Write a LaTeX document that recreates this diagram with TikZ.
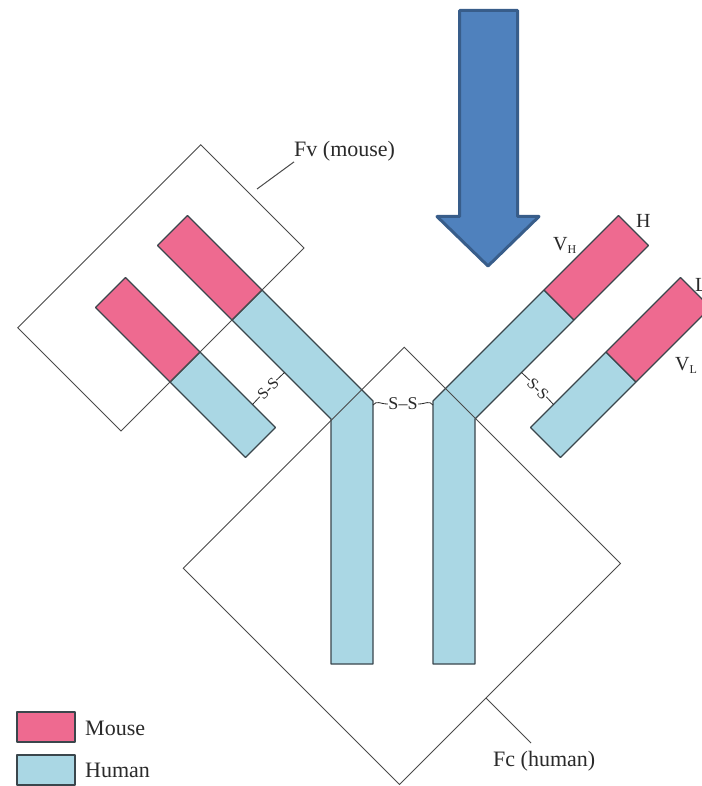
\documentclass[tikz,border=0pt]{standalone}
\usepackage{fontspec}
\setmainfont{Liberation Serif}
\definecolor{mousepink}{HTML}{EE6A90}
\definecolor{humanblue}{HTML}{AAD7E4}
\definecolor{chainline}{HTML}{3A464C}
\definecolor{framegray}{HTML}{4A4A4A}
\definecolor{labelgray}{HTML}{2A2A2A}
\definecolor{arrowfill}{HTML}{4F81BD}
\definecolor{arrowline}{HTML}{385D8A}
\begin{document}
\begin{tikzpicture}[x=1pt,y=-1pt,
  mouse/.style={fill=mousepink,draw=chainline,line width=1.2pt,line join=round},
  human/.style={fill=humanblue,draw=chainline,line width=1.2pt,line join=round},
  frame/.style={draw=framegray,line width=1pt},
  leader/.style={draw=framegray,line width=1pt},
  lbl/.style={font=\fontsize{22}{26}\selectfont,inner sep=0pt,text=labelgray},
  dlbl/.style={font=\fontsize{20}{24}\selectfont,inner sep=0pt,text=labelgray},
  sslbl/.style={font=\fontsize{18}{20}\selectfont,inner sep=0.5pt,text=labelgray},
  ssrot/.style={font=\fontsize{16}{18}\selectfont,inner sep=0pt,text=labelgray},
  tick/.style={draw=labelgray,line width=0.8pt}]
\useasboundingbox (0,0) rectangle (701,786);
\fill[white] (0,0) rectangle (701,786);

% big blue arrow
\draw[fill=arrowfill,draw=arrowline,line width=3pt,line join=round]
  (459.5,10.5) -- (517.5,10.5) -- (517.5,216.5) -- (539,216.5) -- (488,266)
  -- (437,216.5) -- (459.5,216.5) -- cycle;

% ---- left heavy chain
\draw[human] (262,290) -- (373,401) -- (373,664) -- (331,664) -- (331,419) -- (232,320) -- cycle;
\draw[mouse] (187.5,215.5) -- (262,290) -- (232,320) -- (157.5,245.5) -- cycle;
% ---- left light chain
\draw[human] (200,352) -- (275.5,427.5) -- (245.5,457.5) -- (170,382) -- cycle;
\draw[mouse] (125.5,277.5) -- (200,352) -- (170,382) -- (95.5,307.5) -- cycle;
% ---- right heavy chain
\draw[human] (544,290) -- (433,401) -- (433,664) -- (475,664) -- (475,419) -- (574,320) -- cycle;
\draw[mouse] (618.5,215.5) -- (544,290) -- (574,320) -- (648.5,245.5) -- cycle;
% ---- right light chain
\draw[human] (606,352) -- (530.5,427.5) -- (560.5,457.5) -- (636,382) -- cycle;
\draw[mouse] (680.5,277.5) -- (606,352) -- (636,382) -- (710.5,307.5) -- cycle;

% Fc and Fv outlines
\draw[frame] (404.25,347.25) -- (620.5,563.5) -- (399.5,784.5) -- (183.25,568.25) -- cycle;
\draw[frame] (200.75,144.75) -- (304,248) -- (121,431) -- (17.75,327.75) -- cycle;

% disulfide bonds
\node[sslbl] (ssC) at (403,404) {S–S};
\coordinate (ssCl) at (373,405);
\coordinate (ssCr) at (433,405);
\draw[tick] (ssCl) .. controls (377,400) and (380,404) .. (ssC.west);
\draw[tick] (ssC.east) .. controls (426,404) and (429,400) .. (ssCr);

\node[ssrot,rotate=45] (ssL) at (268,388.5) {S-S};
\coordinate (ssLh) at (284.5,372.5);
\coordinate (ssLl) at (252.5,404.5);
\draw[tick] (ssL.east) -- (ssLh);
\draw[tick] (ssL.west) -- (ssLl);

\node[ssrot,rotate=-45] (ssR) at (538,388.5) {S-S};
\coordinate (ssRh) at (521.5,372.5);
\coordinate (ssRl) at (553.5,404.5);
\draw[tick] (ssR.west) -- (ssRh);
\draw[tick] (ssR.east) -- (ssRl);

% labels
\node[lbl,anchor=base west] (fv) at (294,157) {Fv (mouse)};
\coordinate (fvl) at (257,189);
\draw[leader] (fvl) -- (fv.south west);

\node[lbl,anchor=base west] (fc) at (493,766) {Fc (human)};
\coordinate (fcl) at (486,698);
\draw[leader] (fcl) -- (531,743);

\node[dlbl,anchor=base west] (hlab) at (636,228) {H};
\node[dlbl,anchor=base west] (vh) at (553,250) {V\raisebox{-0.35ex}{\fontsize{12}{14}\selectfont H}};
\node[dlbl,anchor=base west] (llab) at (695,291) {L};
\node[dlbl,anchor=base west] (vl) at (675,370) {V\raisebox{-0.35ex}{\fontsize{12}{14}\selectfont L}};

% legend
\draw[mouse] (17,712) rectangle (75,742);
\node[lbl,anchor=base west] (mouselab) at (85,735) {Mouse};
\draw[human] (17,755) rectangle (75,785);
\node[lbl,anchor=base west] (humanlab) at (85,777) {Human};
\end{tikzpicture}
\end{document}
